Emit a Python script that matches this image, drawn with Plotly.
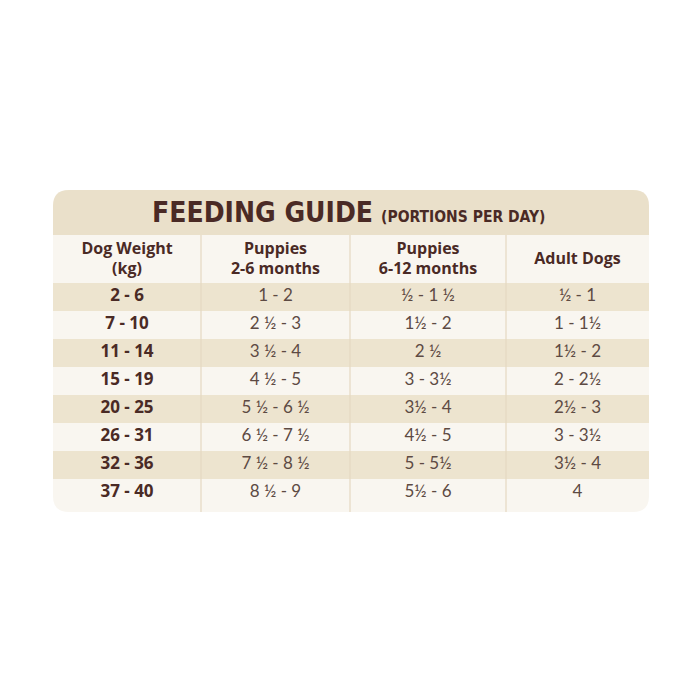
import plotly.graph_objects as go

# feeding guide table (portions per day)
headers = ["Dog Weight<br>(kg)", "Puppies<br>2-6 months", "Puppies<br>6-12 months", "Adult Dogs"]
weights = ["2 - 6", "7 - 10", "11 - 14", "15 - 19", "20 - 25", "26 - 31", "32 - 36", "37 - 40"]
puppies_2_6 = ["1 - 2", "2 ½ - 3", "3 ½ - 4", "4 ½ - 5", "5 ½ - 6 ½", "6 ½ - 7 ½", "7 ½ - 8 ½", "8 ½ - 9"]
puppies_6_12 = ["½ - 1 ½", "1½ - 2", "2 ½", "3 - 3½", "3½ - 4", "4½ - 5", "5 - 5½", "5½ - 6"]
adult_dogs = ["½ - 1", "1 - 1½", "1½ - 2", "2 - 2½", "2½ - 3", "3 - 3½", "3½ - 4", "4"]

DARK = "#4a2a25"
BODY = "#5d4a43"
BAND = "#eae0ca"
STRIPE = "#ede4cf"
LIGHT = "#f9f6f0"
RULE = "#e4d9c2"

col_edges = [53, 201, 350, 506, 649]
top, title_bot, head_bot, bottom = 190, 235, 283, 512
row_h = 28
r = 16


def rounded(x0, y0, x1, y1, rt, rb):
    return (f"M {x0+rt},{y0} L {x1-rt},{y0} Q {x1},{y0} {x1},{y0+rt} "
            f"L {x1},{y1-rb} Q {x1},{y1} {x1-rb},{y1} L {x0+rb},{y1} "
            f"Q {x0},{y1} {x0},{y1-rb} L {x0},{y0+rt} Q {x0},{y0} {x0+rt},{y0} Z")


shapes = [
    dict(type="path", path=rounded(col_edges[0], top, col_edges[-1], bottom, r, r),
         fillcolor=LIGHT, line_width=0, layer="below"),
    dict(type="path", path=rounded(col_edges[0], top, col_edges[-1], title_bot, r, 0),
         fillcolor=BAND, line_width=0, layer="below"),
]
for i in range(len(weights)):
    if i % 2 == 0:
        y0 = head_bot + i * row_h
        shapes.append(dict(type="rect", x0=col_edges[0], x1=col_edges[-1], y0=y0, y1=y0 + row_h,
                           fillcolor=STRIPE, line_width=0, layer="below"))
for x in col_edges[1:-1]:
    shapes.append(dict(type="line", x0=x, x1=x, y0=title_bot, y1=bottom,
                       line=dict(color=RULE, width=1.2), layer="below"))

centers = [(a + b) / 2 for a, b in zip(col_edges[:-1], col_edges[1:])]
row_y = [head_bot + row_h / 2 + i * row_h for i in range(len(weights))]

fig = go.Figure()
fig.add_trace(go.Scatter(
    x=centers, y=[(title_bot + head_bot) / 2 + 1] * 4, mode="text", text=headers,
    textfont=dict(family="Open Sans", size=16, color=DARK, weight="bold"), hoverinfo="skip"))
fig.add_trace(go.Scatter(
    x=[centers[0]] * len(weights), y=row_y, mode="text", text=weights,
    textfont=dict(family="Open Sans", size=17, color=DARK, weight="bold"), hoverinfo="skip"))
for c, vals in zip(centers[1:], [puppies_2_6, puppies_6_12, adult_dogs]):
    fig.add_trace(go.Scatter(
        x=[c] * len(vals), y=row_y, mode="text", text=vals,
        textfont=dict(family="Lato", size=17, color=BODY), hoverinfo="skip"))

fig.add_annotation(
    x=(col_edges[0] + col_edges[-1]) / 2 - 3, y=(top + title_bot) / 2,
    text="<b>FEEDING GUIDE</b> <span style='font-size:15.5px'><b>(PORTIONS PER DAY)</b></span>",
    showarrow=False, font=dict(family="DejaVu Sans Condensed, DejaVu Sans", size=28, color=DARK),
    xanchor="center", yanchor="middle")

fig.update_layout(
    width=700, height=700, margin=dict(l=0, r=0, t=0, b=0),
    paper_bgcolor="white", plot_bgcolor="white", showlegend=False, shapes=shapes,
    xaxis=dict(range=[8, 708], visible=False, fixedrange=True),
    yaxis=dict(range=[708, 8], visible=False, fixedrange=True),
)
fig.write_html("out.html")
